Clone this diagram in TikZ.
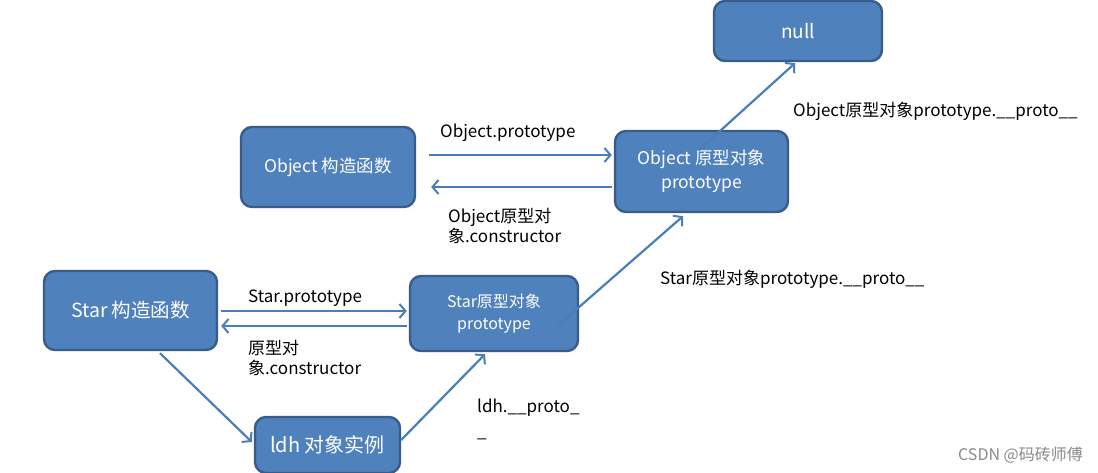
\documentclass[tikz,border=0pt]{standalone}
\usepackage{fontspec}
\setmainfont{Noto Sans CJK SC}
\usetikzlibrary{arrows.meta,calc}
\definecolor{boxfill}{HTML}{4F81BD}
\definecolor{boxedge}{HTML}{385D8A}
\definecolor{linkblue}{HTML}{4A7EBB}
\definecolor{markgray}{HTML}{8A8A8A}
\tikzset{
  objbox/.style={draw=boxedge, line width=2.4pt, fill=boxfill, rounded corners=11pt,
    text=white, align=center, inner sep=0pt, font=\fontsize{17.5}{24}\selectfont},
  link/.style={draw=linkblue, line width=2.2pt,
    -{Straight Barb[length=6pt,width=14pt,line width=2pt]}},
  lbl/.style={anchor=west, align=left, inner sep=0pt, text=black,
    font=\fontsize{17}{20}\selectfont},
}
\begin{document}
\begin{tikzpicture}[x=1pt,y=-1pt]
  \useasboundingbox (0,0) rectangle (1098,473);
  \fill[white] (0,0) rectangle (1098,473);

  % boxes
  \node[objbox, minimum width=168pt, minimum height=60pt, font=\fontsize{19}{24}\selectfont] (null) at (798,31) {null};
  \node[objbox, minimum width=174pt, minimum height=80pt] (objc) at (328,167) {Object 构造函数};
  \node[objbox, minimum width=173pt, minimum height=81pt] (objp) at (701.5,171.5) {Object 原型对象\\prototype};
  \node[objbox, minimum width=173pt, minimum height=79pt, font=\fontsize{19.5}{24}\selectfont] (starc) at (130.5,310.5) {Star 构造函数};
  \node[objbox, minimum width=168pt, minimum height=75pt, font=\fontsize{16}{22}\selectfont] (starp) at (494,313.5) {Star原型对象\\prototype};
  \node[objbox, minimum width=145pt, minimum height=56pt, font=\fontsize{20}{24}\selectfont] (ldh) at (327.5,445) {ldh 对象实例};

  % Object constructor <-> Object prototype
  \draw[link] ([xshift=13pt,yshift=12pt]objc.east) -- ([xshift=-2pt,yshift=16.5pt]objp.west);
  \draw[link] ([xshift=-2pt,yshift=-15.5pt]objp.west) -- ([xshift=15pt,yshift=-20pt]objc.east);
  % Object prototype -> null
  \draw[link] ([xshift=-3pt,yshift=21pt]objp.center) -- ([xshift=-3pt,yshift=-1pt]null.south);

  % Star constructor <-> Star prototype
  \draw[link] ([xshift=3pt,yshift=-0.5pt]starc.east) -- ([xshift=-2pt,yshift=2.5pt]starp.west);
  \draw[link] ([xshift=-2pt,yshift=-12.5pt]starp.west) -- ([xshift=3pt,yshift=-15.5pt]starc.east);
  % Star constructor -> instance, instance -> Star prototype
  \draw[link] ([xshift=29.5pt,yshift=-2pt]starc.south) -- ([xshift=-2pt,yshift=3pt]ldh.west);
  \draw[link] ([yshift=5pt]ldh.east) -- ([xshift=-9pt,yshift=-2pt]starp.south);
  % Star prototype -> Object prototype
  \draw[link] ([xshift=64pt,yshift=-12pt]starp.center) -- ([xshift=-18.5pt,yshift=-3pt]objp.south);

  % labels
  \node[lbl] (l1) at (440,133) {Object.prototype};
  \node[lbl] (l2) at (448,226) {Object原型对\\象.constructor};
  \node[lbl] (l3) at (793,111) {Object原型对象prototype.\_\_proto\_\_};
  \node[lbl] (l4) at (248,298) {Star.prototype};
  \node[lbl] (l5) at (248,358) {原型对\\象.constructor};
  \node[lbl] (l6) at (660,279) {Star原型对象prototype.\_\_proto\_\_};
  \node[lbl, font=\fontsize{17}{25}\selectfont] (l7) at (477,419.5) {ldh.\_\_proto\_\\\_};

  % watermark
  \node[anchor=east, inner sep=0pt, text=markgray, font=\fontsize{16}{18}\selectfont] (wm) at (1083,455) {CSDN @码砖师傅};
\end{tikzpicture}
\end{document}
